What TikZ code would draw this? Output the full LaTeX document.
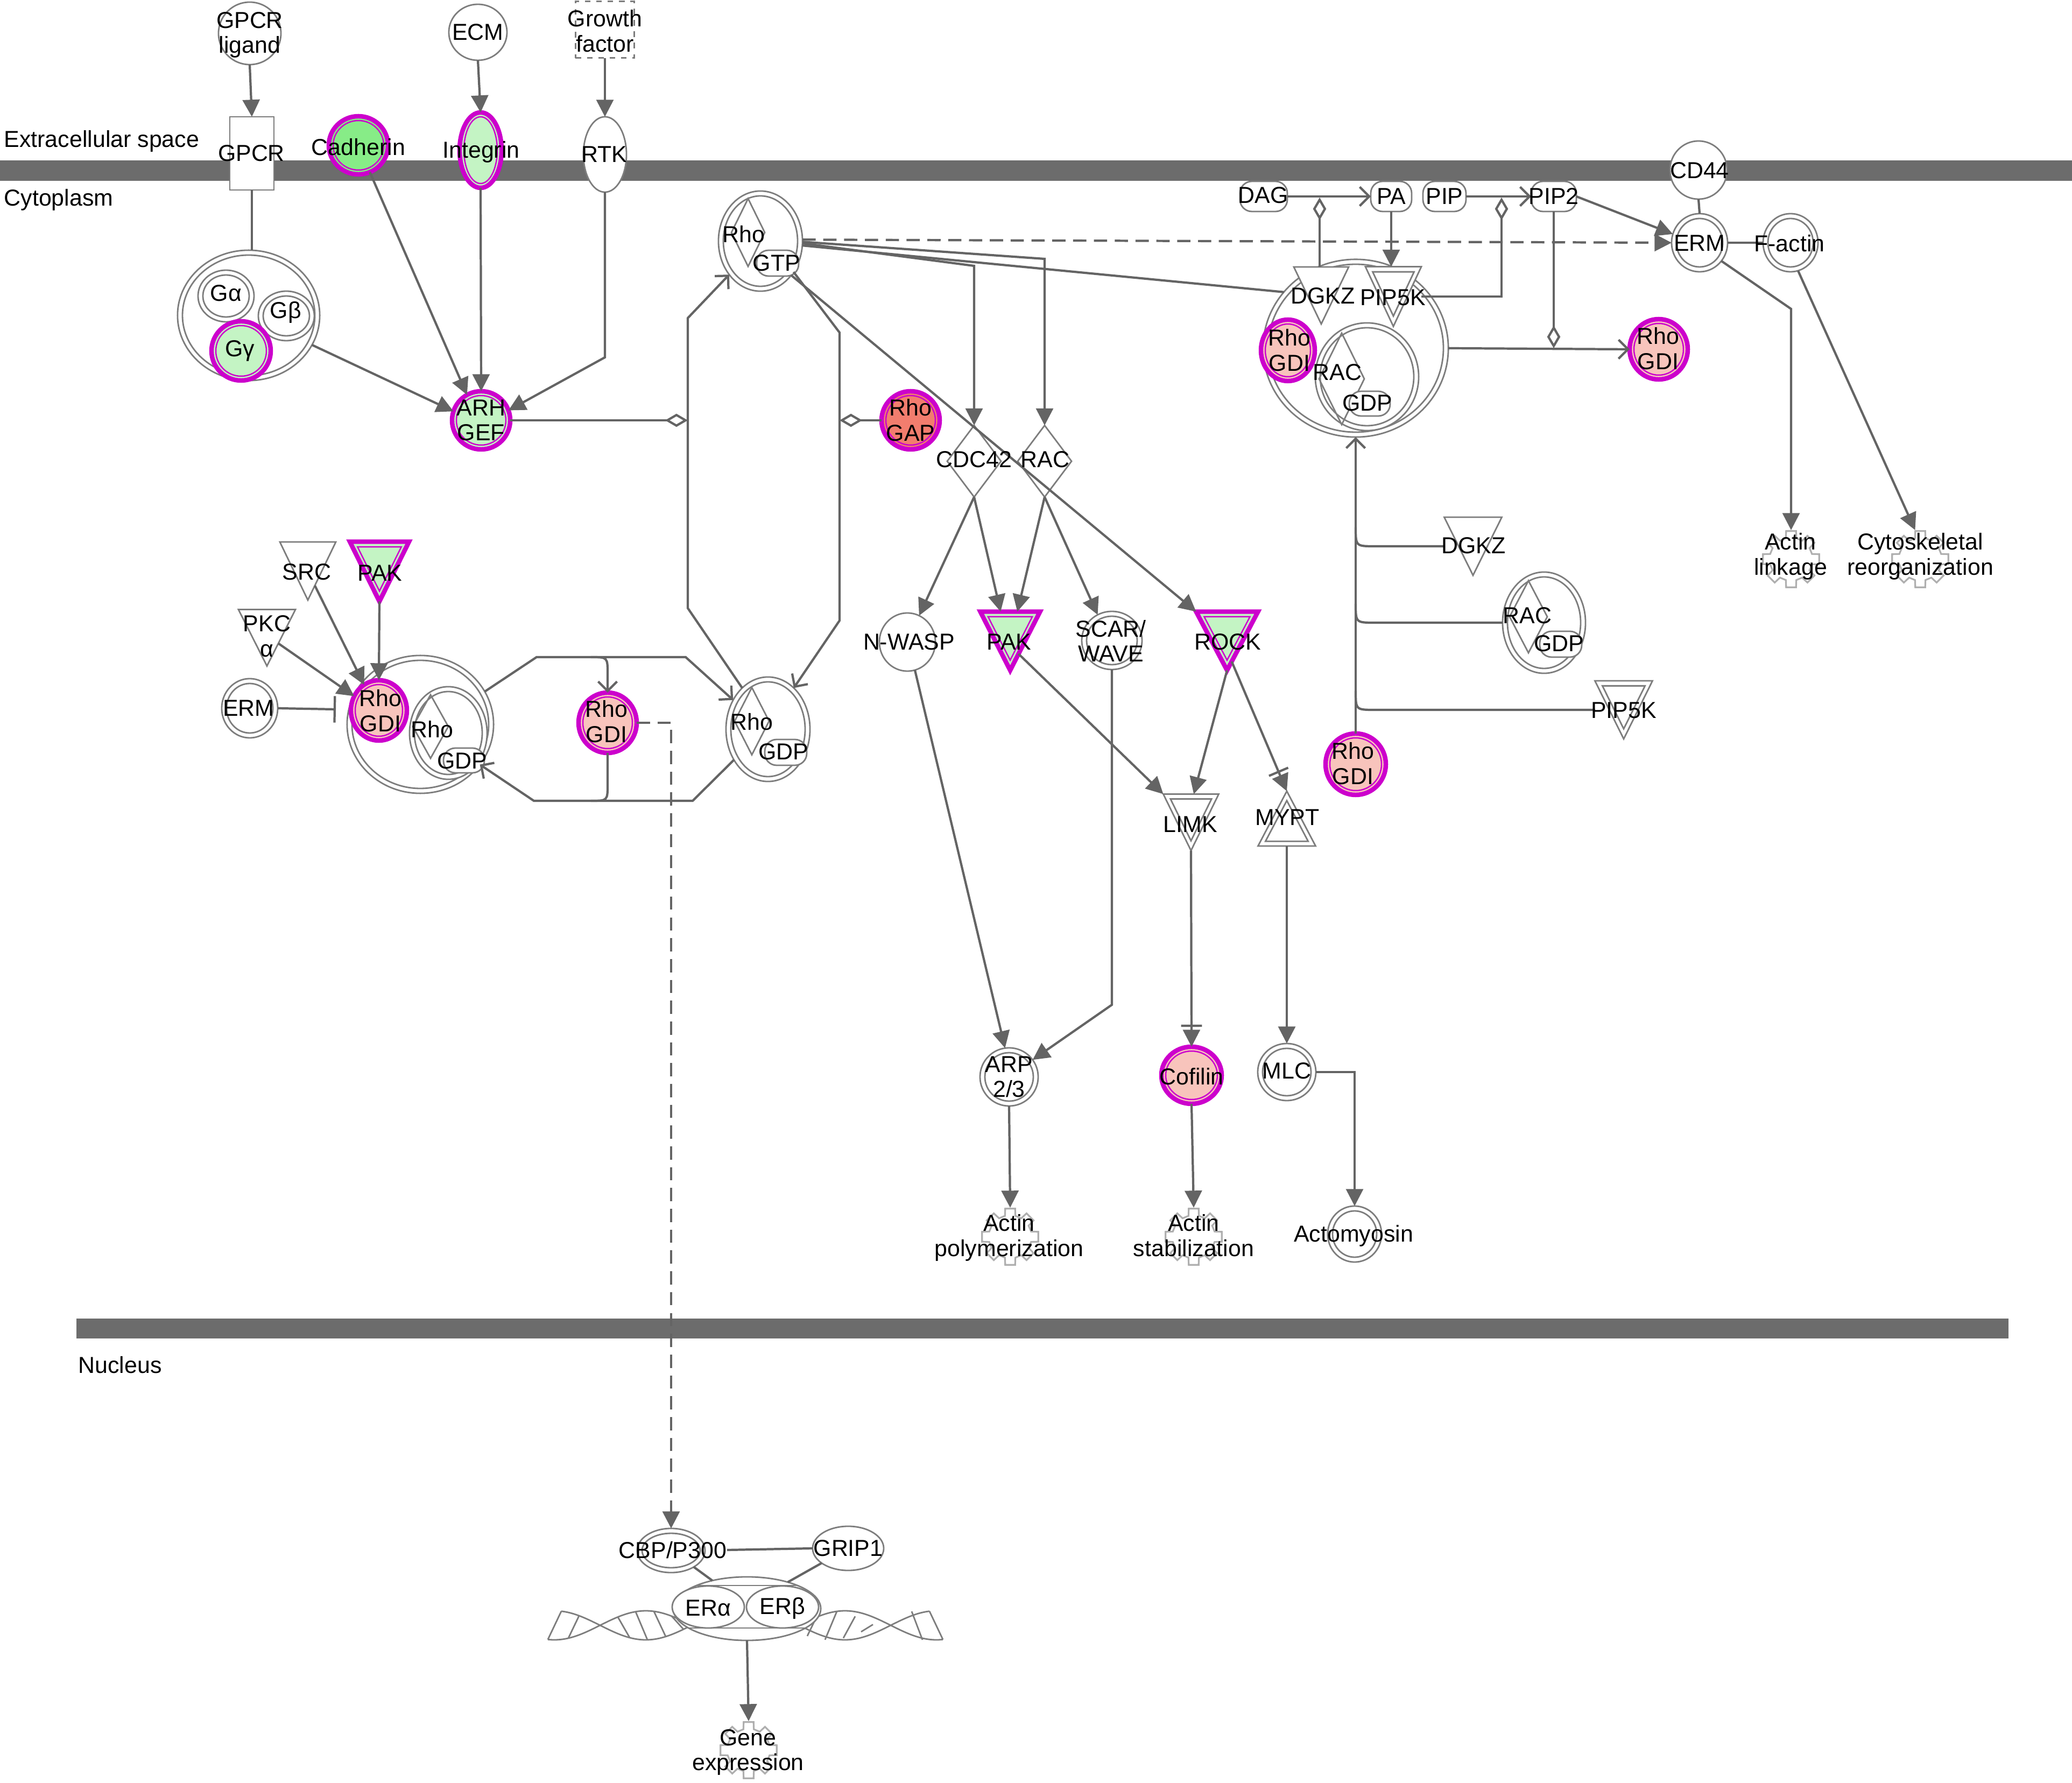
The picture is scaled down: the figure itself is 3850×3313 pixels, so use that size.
\documentclass[tikz,border=0pt]{standalone}
\usepackage{fontspec}
\setmainfont{Liberation Sans}
\usetikzlibrary{arrows.meta,shapes.geometric,calc}
\definecolor{lc}{RGB}{100,100,100}
\definecolor{oc}{RGB}{125,125,125}
\definecolor{mag}{RGB}{204,0,204}
\definecolor{grn}{RGB}{135,236,135}
\definecolor{grnl}{RGB}{196,244,196}
\definecolor{sal}{RGB}{242,125,110}
\definecolor{pnk}{RGB}{248,196,188}
\definecolor{memb}{RGB}{108,108,108}
\definecolor{gearc}{RGB}{175,175,175}
\newcommand\lab{\fontsize{12.2}{13.3}\selectfont}
\tikzset{
  ol/.style={draw=oc, line width=0.8pt},
  ell/.style={ellipse, inner sep=0pt, outer sep=0pt, ol, fill=white},
  box/.style={rectangle, inner sep=0pt, outer sep=0pt},
  pill/.style={box, ol, fill=white, rounded corners=0.22cm},
  lbl/.style={font=\lab, align=center, inner sep=0pt, text=black},
  ln/.style={draw=lc, line width=1.2pt},
  arr/.style={ln, -{Triangle[length=9pt,width=9pt]}},
  arro/.style={ln, -{Straight Barb[length=5pt,width=10pt]}},
  barr/.style={ln, -{Bar[width=11pt,sep=1.5pt]Triangle[length=9pt,width=9pt]}},
  dia/.style={ln, -{Diamond[open,length=12pt,width=7pt]}},
  inh/.style={ln, -{Bar[width=14pt]}},
  mtri/.style={draw=mag, line width=2.4pt, fill=grnl, line join=miter},
  mthin/.style={draw=mag, line width=0.7pt},
  gear/.style={draw=gearc, line width=0.9pt},
  dsh/.style={dash pattern=on 7pt off 4pt},
}
\newcommand\Ell[5]{\node[ell, minimum width=#4*0.02cm, minimum height=#5*0.02cm] (#1) at (#2,#3) {};}
\newcommand\DEll[5]{\Ell{#1}{#2}{#3}{#4}{#5}\draw[ol] (#1.center) ellipse [x radius=#4*0.01cm-0.09cm, y radius=#5*0.01cm-0.09cm];}
\newcommand\Mc[6]{\node[ellipse, inner sep=0pt, outer sep=0pt, fill=#6, draw=mag, line width=2.4pt, minimum width=#4*0.02cm, minimum height=#5*0.02cm] (#1) at (#2,#3) {};\draw[mthin] (#1.center) ellipse [x radius=#4*0.01cm-0.08cm, y radius=#5*0.01cm-0.08cm];}
\newcommand\TriD[6]{\node[box, minimum width=#4*0.01cm, minimum height=#5*0.01cm] (#1) at (#2,#3) {};\draw[#6] (#1.north west) -- (#1.north east) -- (#1.south) -- cycle;}
\newcommand\TriDIn[2]{\coordinate (#1G) at ($(#1.north)!0.3333!(#1.south)$);\draw[#2] ($(#1G)!0.74!(#1.north west)$) -- ($(#1G)!0.74!(#1.north east)$) -- ($(#1G)!0.74!(#1.south)$) -- cycle;}
\newcommand\TriU[6]{\node[box, minimum width=#4*0.01cm, minimum height=#5*0.01cm] (#1) at (#2,#3) {};\draw[#6] (#1.south west) -- (#1.south east) -- (#1.north) -- cycle;}
\newcommand\TriUIn[2]{\coordinate (#1G) at ($(#1.south)!0.3333!(#1.north)$);\draw[#2] ($(#1G)!0.74!(#1.south west)$) -- ($(#1G)!0.74!(#1.south east)$) -- ($(#1G)!0.74!(#1.north)$) -- cycle;}
\newcommand\Dia[6]{\node[box, minimum width=#4*0.01cm, minimum height=#5*0.01cm] (#1) at (#2,#3) {};\draw[#6] (#1.north) -- (#1.east) -- (#1.south) -- (#1.west) -- cycle;}
\newcommand\Pill[5]{\node[pill, minimum width=#4*0.01cm, minimum height=#5*0.01cm] (#1) at (#2,#3) {};}
\newcommand\Gear[3]{\node[box, minimum width=1.06cm, minimum height=1.08cm] (#1) at (#2,#3) {};\draw[gear] ([shift={(#1.center)}]-14:0.40cm) \foreach \gq in {0,45,...,315}{ -- ([shift={(#1.center)}]\gq-14:0.40cm) -- ([shift={(#1.center)}]\gq-10:0.53cm) -- ([shift={(#1.center)}]\gq+10:0.53cm) -- ([shift={(#1.center)}]\gq+14:0.40cm)} -- cycle;}
\begin{document}
\begin{tikzpicture}[x=0.01cm, y=-0.01cm]
\useasboundingbox (0,0) rectangle (3850,3313);
\fill[white] (0,0) rectangle (3850,3313);
\fill[memb] (0,298) rectangle (3850,336);
\fill[memb] (142,2450) rectangle (3732,2487);

% ---------- top inputs ----------
\Ell{gl}{464}{62}{58}{58}
\Ell{ecm}{888}{60}{54}{52}
\node[box, ol, dashed, fill=white, minimum width=1.09cm, minimum height=1.05cm] (gf) at (1124,55) {};
\node[box, ol, fill=white, minimum width=0.82cm, minimum height=1.36cm] (gpcr) at (468,285) {};
\Mc{cad}{666}{270}{55}{54}{grn}
\Mc{itg}{893}{279}{39}{70}{grnl}
\Ell{rtk}{1124}{287}{40}{70}
\Ell{cd44}{3156}{316}{53}{54}

% ---------- G protein ----------
\DEll{gcx}{462}{586}{132}{121}
\DEll{ga}{420}{550}{52}{48}
\DEll{gb}{532}{587}{52}{46}
\Mc{gg}{448}{652}{55}{55}{grnl}
\Mc{arh}{894}{781}{54}{54}{grnl}

% ---------- Rho GTP / effectors ----------
\DEll{rhoT}{1413}{448}{78}{93}
\Dia{rhoTd}{1390}{432}{62}{126}{ol}
\Pill{rhoTp}{1445}{489}{78}{48}
\Mc{gap}{1692}{781}{54}{54}{sal}
\Dia{cdc}{1810}{857}{100}{133}{ol, fill=white}
\Dia{rac}{1941}{857}{100}{133}{ol, fill=white}
\Ell{nw}{1686}{1193}{52}{54}
\TriD{pakM}{1877}{1191}{111}{109}{mtri}\TriDIn{pakM}{mthin}
\DEll{scar}{2066}{1190}{56}{54}
\TriD{rock}{2280}{1191}{115}{109}{mtri}\TriDIn{rock}{mthin}
\TriD{limk}{2213}{1528}{103}{105}{ol, fill=white}\TriDIn{limk}{ol}
\TriU{mypt}{2391}{1521}{107}{102}{ol, fill=white}\TriUIn{mypt}{ol}
\DEll{arp}{1875}{2001}{54}{54}
\Mc{cof}{2214}{1998}{56}{53}{pnk}
\DEll{mlc}{2391}{1992}{54}{53}
\Gear{gpol}{1877}{2298}
\Gear{gstab}{2218}{2298}
\DEll{acto}{2517}{2293}{50}{52}

% ---------- left cycle ----------
\TriD{src}{572}{1061}{104}{108}{ol, fill=white}
\TriD{pakL}{705}{1062}{110}{111}{mtri}\TriDIn{pakL}{mthin}
\TriD{pkc}{496}{1185}{106}{105}{ol, fill=white}
\DEll{ermL}{464}{1316}{52}{55}
\DEll{cxL}{781}{1346}{136}{128}
\DEll{rhoL}{833}{1362}{72}{86}
\Dia{rhoLd}{800}{1350}{66}{118}{ol}
\Pill{rhoLp}{862}{1413}{76}{46}
\Mc{gdiL}{704}{1320}{52}{56}{pnk}
\Mc{gdiM}{1129}{1343}{54}{56}{pnk}
\DEll{rhoR}{1427}{1355}{78}{97}
\Dia{rhoRd}{1397}{1340}{64}{125}{ol}
\Pill{rhoRp}{1460}{1398}{78}{48}

% ---------- right side ----------
\Pill{dag}{2348}{365}{88}{56}
\Pill{pa}{2585}{365}{76}{56}
\Pill{pip}{2684}{365}{80}{56}
\Pill{pip2}{2887}{365}{84}{56}
\DEll{cxR}{2519}{647}{172}{165}
\DEll{racC}{2540}{700}{96}{100}
\Dia{racCd}{2493}{704}{84}{170}{ol}
\Pill{racCp}{2545}{750}{76}{46}
\TriD{dgkzC}{2455}{549}{102}{106}{ol, fill=white}
\TriD{pipC}{2589}{551}{104}{111}{ol, fill=white}\TriDIn{pipC}{ol}
\Mc{gdiC}{2393}{651}{50}{57}{pnk}
\Mc{gdiR}{3082}{649}{54}{56}{pnk}
\DEll{ermR}{3158}{451}{52}{54}
\DEll{fact}{3327}{451}{51}{54}
\Gear{glink}{3328}{1039}
\Gear{gcyto}{3568}{1039}
\TriD{dgkzS}{2737}{1015}{107}{108}{ol, fill=white}
\DEll{racS}{2869}{1157}{77}{94}
\Dia{racSd}{2840}{1146}{70}{134}{ol}
\Pill{racSp}{2900}{1197}{78}{48}
\TriD{pipS}{3017}{1319}{107}{108}{ol, fill=white}\TriDIn{pipS}{ol}
\Mc{gdiB}{2519}{1420}{56}{57}{pnk}

% ---------- nucleus ----------
\DEll{cbp}{1247}{2881}{63}{41}
\Ell{grip}{1576}{2877}{66}{41}
% DNA helix (left half and its mirror image)
\draw[ol] plot[domain=1043:1385, samples=90, smooth] (\x, {3020+27*sin(1.0588*(\x-1115))});
\draw[ol] plot[domain=1018:1385, samples=90, smooth] (\x, {3020-27*sin(1.0588*(\x-1115))});
\draw[ol] plot[domain=1385:1727, samples=90, smooth] (\x, {3020+27*sin(1.0588*(1655-\x))});
\draw[ol] plot[domain=1385:1752, samples=90, smooth] (\x, {3020-27*sin(1.0588*(1655-\x))});
\draw[ol] (1018, {3020-27*sin(1.0588*(1018-1115))}) -- (1043, {3020+27*sin(1.0588*(1043-1115))});
\draw[ol] (1752, {3020-27*sin(1.0588*(1655-1752))}) -- (1727, {3020+27*sin(1.0588*(1655-1727))});
\foreach \xc/\dd in {1066/10, 1159/-11, 1192/-11, 1226/-11, 1259/-11, 1704/-10, 1611/11, 1578/11, 1544/11, 1511/11}
  \draw[ol] (\xc+\dd, {3020-27*abs(sin(1.0588*(\xc+\dd-1115)))}) -- (\xc-\dd, {3020+27*abs(sin(1.0588*(\xc-\dd-1115)))});
\Ell{erc}{1388}{2989}{137}{59}
\begin{scope}
  \clip (erc.center) ellipse [x radius=1.37cm, y radius=0.59cm];
  \draw[ol] (1200,2946) -- (1600,2946);
  \draw[ol] (1200,3025) -- (1600,3025);
\end{scope}
\Ell{era}{1316}{2986}{67}{39}
\Ell{erb}{1454}{2986}{67}{39}
\Gear{ggene}{1391}{3252}
\node[lbl] (tcbp) at (1250,2880) {CBP/P300};

% ---------- connectors ----------
\draw[arr] (gl.south) -- (gpcr.north);
\draw[arr] (ecm.south) -- (itg.north);
\draw[arr] (gf.south) -- (rtk.north);
\draw[ln] (gpcr.south) -- (gpcr.south |- gcx.north);
\draw[arr] (gcx.335) -- (arh.162);
\draw[arr] (cad.293) -- (arh.119);
\draw[arr] (itg.south) -- (arh.north);
\coordinate (rtkb) at (1124,664);
\draw[arr] (rtk.south) -- (rtkb) -- (arh.20);

\coordinate (loopL) at (1278,781);
\draw[dia] (arh.east) -- (loopL);
\coordinate (loopR) at (1560,781);
\draw[dia] (gap.west) -- (loopR);

\coordinate (lp1) at (1278,1130); \coordinate (lp2) at (1278,591);
\draw[arro] (rhoR.122) -- (lp1) -- (lp2) -- (rhoT.227);
\coordinate (rp1) at (1560,618); \coordinate (rp2) at (1560,1153);
\draw[arro] (rhoT.317) -- (rp1) -- (rp2) -- (rhoR.58);

\coordinate (cdcb) at (1810,494); \coordinate (racb) at (1941,481);
\draw[arr] (rhoT.357) -- (cdcb) -- (cdc.north);
\draw[arr] (rhoT.359) -- (racb) -- (rac.north);
\draw[ln] (rhoT.354) -- (cxR.142);
\draw[arr, dsh] (rhoT.2) -- (ermR.west);
\draw[arr] (rhoT.312) -- (rock.north west);

\draw[arr] (cdc.south) -- (nw.66);
\draw[arr] (cdc.south) -- ($(pakM.north west)!0.34!(pakM.north east)$);
\draw[arr] (rac.south) -- ($(pakM.north west)!0.62!(pakM.north east)$);
\draw[arr] (rac.south) -- (scar.119);
\draw[arr] ($(pakM.north east)!0.72!(pakM.south)$) -- (limk.north west);
\draw[arr] (rock.south) -- ($(limk.north west)!0.55!(limk.north east)$);
\draw[barr] ($(rock.north east)!0.85!(rock.south)$) -- (mypt.north);
\draw[barr] (limk.south) -- (cof.north);
\draw[arr] (mypt.south) -- (mlc.north);
\draw[arr] (nw.285) -- (arp.98);
\coordinate (scb) at (2066,1867);
\draw[arr] (scar.south) -- (scb) -- (arp.36);
\draw[arr] (arp.south) -- (gpol.north);
\draw[arr] (cof.south) -- (gstab.north);
\draw[arr] (mlc.east) -| (acto.north);

\draw[arr] ($(src.north east)!0.75!(src.south)$) -- (gdiL.120);
\draw[arr] (pakL.south) -- (gdiL.north);
\draw[arr] ($(pkc.north east)!0.6!(pkc.south)$) -- (gdiL.150);
\coordinate (inhE) at (624,1318);
\draw[inh] (ermL.east) -- (inhE);

\coordinate (u1) at (997,1221); \coordinate (u2) at (1274,1221);
\coordinate (u3) at (1098,1221); \coordinate (u4) at (1129,1252);
\draw[arro] (cxL.27) -- (u1) -- (u2) -- (rhoR.140);
\draw[arro] (u3) .. controls (1129,1221) .. (u4) -- (gdiM.north);
\coordinate (b1) at (1287,1488); \coordinate (b2) at (992,1488);
\coordinate (b3) at (1098,1488); \coordinate (b4) at (1129,1457);
\draw[arro] (rhoR.222) -- (b1) -- (b2) -- (cxL.326);
\draw[ln] (gdiM.south) -- (b4) .. controls (1129,1488) .. (b3);
\coordinate (dshc) at (1247,1343);
\draw[arr, dsh] (gdiM.east) -- (dshc) -- (cbp.north);

\draw[arro] (dag.east) -- (pa.west);
\draw[arro] (pip.east) -- (pip2.west);
\coordinate (d1) at (2452,367);
\draw[dia] (d1 |- dgkzC.north) -- (d1);
\coordinate (d2) at (2790,367); \coordinate (d2b) at (2790,551);
\draw[dia] (pipC.east) -- (d2b) -- (d2);
\draw[arr] (pa.south) -- (pa.south |- pipC.north);
\draw[arro] (cxR.east) -- (gdiR.west);
\draw[dia] (pip2.south) -- (pip2.south |- cxR.east);
\draw[arr] (pip2.east) -- (ermR.162);
\draw[ln] (cd44.south) -- (ermR.north);
\draw[ln] (ermR.east) -- (fact.west);
\coordinate (al1) at (3328,574);
\draw[arr] (ermR.320) -- (al1) -- (glink.north);
\draw[arr] (fact.285) -- (gcyto.100);

\draw[arro] (gdiB.north) -- (gdiB.north |- cxR.south);
\coordinate (br1) at (2519,980); \coordinate (br1e) at (2555,1015);
\draw[ln] (br1) .. controls (2519,1015) .. (br1e) -- (dgkzS.west);
\coordinate (br2) at (2519,1122); \coordinate (br2e) at (2555,1157);
\draw[ln] (br2) .. controls (2519,1157) .. (br2e) -- (racS.west);
\coordinate (br3) at (2519,1284); \coordinate (br3e) at (2555,1319);
\draw[ln] (br3) .. controls (2519,1319) .. (br3e) -- (pipS.west);

\draw[ln] (tcbp.east) -- (grip.west);
\draw[ln] (cbp.324) -- (erc.141);
\draw[ln] (grip.209) -- (erc.33);
\draw[arr] (erc.south) -- (ggene.north);

% ---------- labels ----------
\node[lbl, anchor=west] (tEx) at (7,262) {Extracellular space};
\node[lbl, anchor=west] (tCy) at (7,371) {Cytoplasm};
\node[lbl, anchor=west] (tNu) at (145,2536) {Nucleus};
\node[lbl] (tgl) at (464,65) {GPCR\\ligand};
\node[lbl] (tecm) at (888,60) {ECM};
\node[lbl] (tgf) at (1124,58) {Growth\\factor};
\node[lbl] (tgpcr) at (467,285) {GPCR};
\node[lbl] (tcad) at (666,273) {Cadherin};
\node[lbl] (titg) at (894,282) {Integrin};
\node[lbl] (trtk) at (1123,287) {RTK};
\node[lbl] (tga) at (420,545) {Gα};
\node[lbl] (tgb) at (531,580) {Gβ};
\node[lbl] (tgg) at (446,652) {Gγ};
\node[lbl] (tarh) at (894,781) {ARH\\GEF};
\node[lbl] (trhoT) at (1382,435) {Rho};
\node[lbl] (tgtp) at (1443,489) {GTP};
\node[lbl] (tgap) at (1692,781) {Rho\\GAP};
\node[lbl] (tcdc) at (1810,854) {CDC42};
\node[lbl] (trac) at (1942,854) {RAC};
\node[lbl] (tnw) at (1689,1193) {N-WASP};
\node[lbl] (tpakM) at (1875,1193) {PAK};
\node[lbl] (tscar) at (2064,1191) {SCAR/\\WAVE};
\node[lbl] (trock) at (2281,1193) {ROCK};
\node[lbl] (tlimk) at (2212,1532) {LIMK};
\node[lbl] (tmypt) at (2392,1519) {MYPT};
\node[lbl] (tarp) at (1875,2001) {ARP\\2/3};
\node[lbl] (tcof) at (2214,2000) {Cofilin};
\node[lbl] (tmlc) at (2391,1990) {MLC};
\node[lbl] (tpol) at (1875,2300) {Actin\\polymerization};
\node[lbl] (tstab) at (2218,2296) {Actin\\stabilization};
\node[lbl] (tacto) at (2515,2296) {Actomyosin};
\node[lbl] (tsrc) at (570,1063) {SRC};
\node[lbl] (tpakL) at (706,1065) {PAK};
\node[lbl] (tpkc) at (496,1182) {PKC\\α};
\node[lbl] (termL) at (462,1316) {ERM};
\node[lbl] (tgdiL) at (707,1321) {Rho\\GDI};
\node[lbl] (trhoL) at (803,1355) {Rho};
\node[lbl] (tgdpL) at (859,1414) {GDP};
\node[lbl] (tgdiM) at (1127,1341) {Rho\\GDI};
\node[lbl] (trhoR) at (1397,1341) {Rho};
\node[lbl] (tgdpR) at (1456,1397) {GDP};
\node[lbl] (tdag) at (2347,363) {DAG};
\node[lbl] (tpa) at (2585,365) {PA};
\node[lbl] (tpip) at (2684,365) {PIP};
\node[lbl] (tpip2) at (2887,365) {PIP2};
\node[lbl] (tcd44) at (3158,317) {CD44};
\node[lbl] (termR) at (3158,452) {ERM};
\node[lbl] (tfact) at (3325,452) {F-actin};
\node[lbl] (tdgkzC) at (2458,550) {DGKZ};
\node[lbl] (tpipC) at (2588,553) {PIP5K};
\node[lbl] (tgdiC) at (2396,651) {Rho\\GDI};
\node[lbl] (tracC) at (2485,692) {RAC};
\node[lbl] (tgdpC) at (2541,749) {GDP};
\node[lbl] (tgdiR) at (3081,648) {Rho\\GDI};
\node[lbl] (tlink) at (3327,1034) {Actin\\linkage};
\node[lbl] (tcyto) at (3568,1034) {Cytoskeletal\\reorganization};
\node[lbl] (tdgkzS) at (2738,1014) {DGKZ};
\node[lbl] (tracS) at (2838,1144) {RAC};
\node[lbl] (tgdpS) at (2897,1196) {GDP};
\node[lbl] (tpipS) at (3017,1320) {PIP5K};
\node[lbl] (tgdiB) at (2514,1419) {Rho\\GDI};
\node[lbl] (tgrip) at (1576,2877) {GRIP1};
\node[lbl] (tera) at (1316,2988) {ERα};
\node[lbl] (terb) at (1454,2988) {ERβ};
\node[lbl] (tgene) at (1390,3256) {Gene\\expression};
\end{tikzpicture}
\end{document}
